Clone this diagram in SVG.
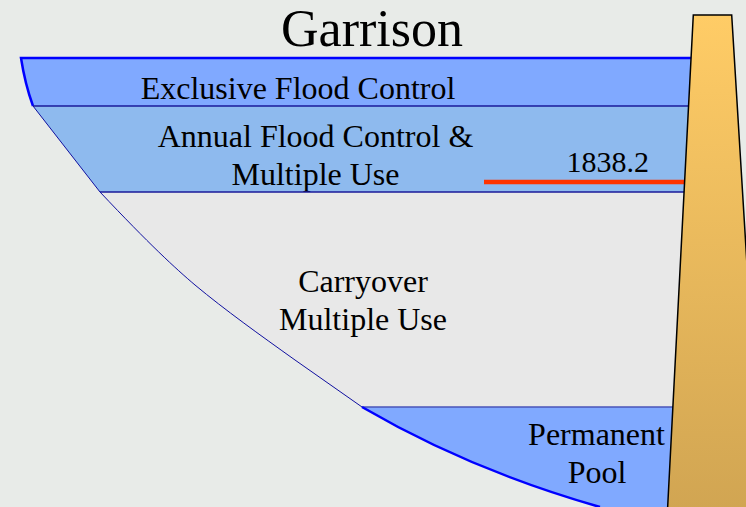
<svg xmlns="http://www.w3.org/2000/svg" width="746" height="507" viewBox="0 0 746 507">
  <defs>
    <linearGradient id="damGrad" x1="0" y1="0" x2="0" y2="1">
      <stop offset="0" stop-color="#FFCC66"/>
      <stop offset="1" stop-color="#D1A552"/>
    </linearGradient>
  </defs>
  <style>
    .t { font-family: 'Liberation Serif', 'Times New Roman', 'DejaVu Serif', serif; fill: #000; text-anchor: middle; }
    .lbl { font-size: 32px; }
    .edge { fill: none; stroke: #1A1A9A; stroke-width: 1.5; }
    .thin { fill: none; stroke: #1010A0; stroke-width: 1; }
    .thick { fill: none; stroke: #0000FF; stroke-width: 2.5; }
  </style>
  <rect x="0" y="0" width="746" height="507" fill="#E8EBE8"/>
  <text id="title" class="t" x="372" y="46" font-family="Liberation Serif, serif" font-size="52">Garrison</text>

  <g id="exclusive">
    <path d="M21,58 L700,58 L700,106 L33,106 Q25,84 21,58 Z" fill="#80A9FF"/>
    <text class="t lbl" font-family="Liberation Serif, serif" x="298" y="99">Exclusive Flood Control</text>
  </g>
  <g id="annual">
    <path d="M33,106 L700,106 L700,192 L100,192 Z" fill="#8EBAEE"/>
    <text class="t lbl" font-family="Liberation Serif, serif" x="315.5" y="147">Annual Flood Control &amp;</text>
    <text class="t lbl" font-family="Liberation Serif, serif" x="315.5" y="185">Multiple Use</text>
  </g>
  <g id="carryover">
    <path d="M100,192 L700,192 L700,407 L362,407 L295,360 C260,335 225,310 195,285 C175,268 150,245 100,192 Z" fill="#E8E8E8"/>
    <text class="t lbl" font-family="Liberation Serif, serif" x="363" y="292">Carryover</text>
    <text class="t lbl" font-family="Liberation Serif, serif" x="363" y="330">Multiple Use</text>
  </g>
  <g id="permanent">
    <path d="M362,407 L700,407 L700,507 L600,507 Q470,470 362,407 Z" fill="#80A9FF"/>
    <text class="t lbl" font-family="Liberation Serif, serif" x="596.5" y="445">Permanent</text>
    <text class="t lbl" font-family="Liberation Serif, serif" x="597" y="483">Pool</text>
  </g>

  <g id="connectors">
    <path class="thick" d="M33,106 Q25,84 21,58 L692,58"/>
    <path class="edge" d="M33,106 L690,106"/>
    <path class="thin" d="M33,106 L100,192"/>
    <path class="edge" d="M100,192 L685,192"/>
    <path class="thin" d="M100,192 C150,245 175,268 195,285 C225,310 260,335 295,360 L362,407"/>
    <path style="fill:none;stroke:#4A55B8;stroke-width:1.5" d="M362,407 L674,407"/>
    <path class="thick" d="M362,407 Q470,470 600,507"/>
  </g>

  <g id="level">
    <line x1="484" y1="182" x2="685" y2="182" stroke="#FF3300" stroke-width="4.5"/>
    <text class="t" font-family="Liberation Serif, serif" x="566.5" y="172" font-size="30" style="text-anchor:start">1838.2</text>
  </g>

  <g id="dam">
    <polygon points="693.3,15 731.7,15 762,510 667.5,510" fill="url(#damGrad)" stroke="#000" stroke-width="1.5"/>
  </g>
</svg>
